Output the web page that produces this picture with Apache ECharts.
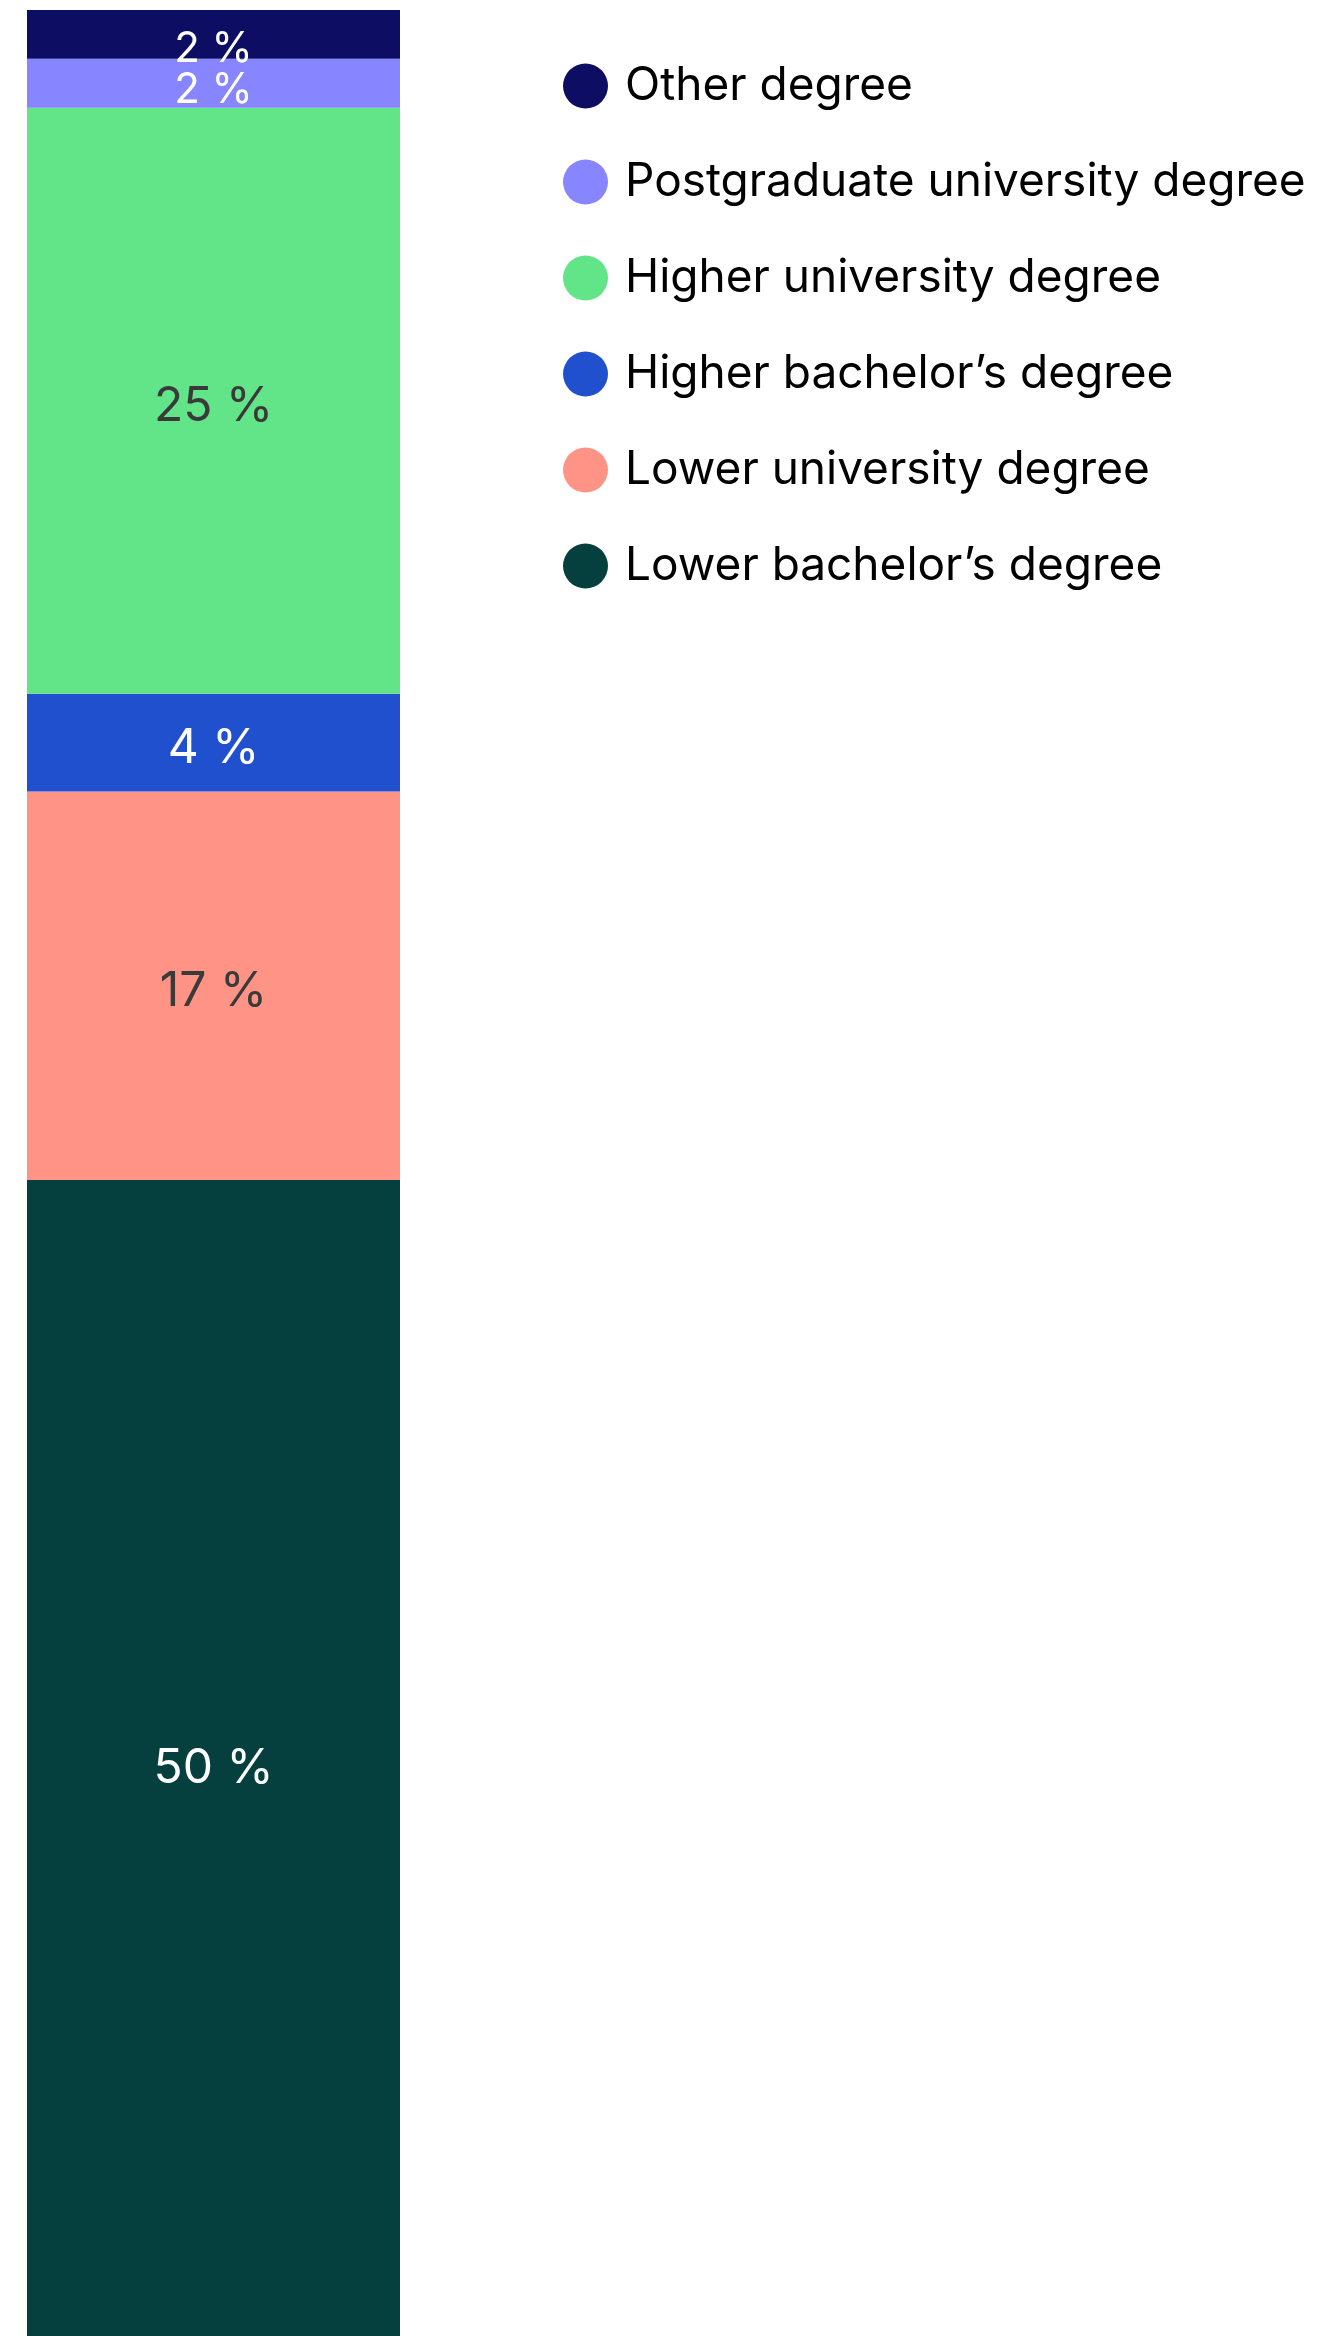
<!DOCTYPE html>
<html>
<head>
<meta charset="utf-8">
<script src="https://cdn.jsdelivr.net/npm/echarts@6/dist/echarts.min.js"></script>
<style>
  html, body { margin: 0; padding: 0; background: #ffffff; }
  #chart { width: 1317px; height: 2336px; }
</style>
</head>
<body>
<div id="chart"></div>
<script>
// Data (bottom of stack first)
const categories = ['Degree'];
const seriesNames = [
  'Lower bachelor\u2019s degree',
  'Lower university degree',
  'Higher bachelor\u2019s degree',
  'Higher university degree',
  'Postgraduate university degree',
  'Other degree'
];
const seriesValues = [49.7, 16.7, 4.2, 25.2, 2.1, 2.1];
const seriesColors = ['#05403f', '#ff9486', '#2150cf', '#62e488', '#8785ff', '#0d0d63'];
const labelColors = ['#ffffff', '#3a3a3a', '#ffffff', '#3a3a3a', '#ffffff', '#ffffff'];
const labelOffsets = [[0, 11], [0, 6], [0, 6], [0, 6], [0, 7], [0, 15]];
const legendOrder = seriesNames.slice().reverse();

const FONT = 'Inter, Roboto, "Noto Sans", sans-serif';

const chart = echarts.init(document.getElementById('chart'), null, { renderer: 'canvas' });

const series = seriesNames.map((name, i) => {
  const small = seriesValues[i] < 3;
  return {
    name: name,
    type: 'bar',
    stack: 'total',
    data: [seriesValues[i]],
    barWidth: '100%',
    itemStyle: { color: seriesColors[i] },
    label: {
      show: true,
      position: 'inside',
      formatter: p => Math.round(p.value) + ' %',
      color: labelColors[i],
      fontFamily: FONT,
      fontSize: small ? 42 : 48,
      offset: labelOffsets[i]
    },
    emphasis: { disabled: true }
  };
});

chart.setOption({
  backgroundColor: '#ffffff',
  animation: false,
  grid: { left: 27, top: 10, width: 373, bottom: 0, containLabel: false },
  xAxis: {
    type: 'category',
    data: categories,
    show: false
  },
  yAxis: {
    type: 'value',
    min: 0,
    max: 100,
    show: false
  },
  legend: {
    orient: 'vertical',
    left: 558,
    top: 58,
    data: legendOrder,
    icon: 'circle',
    itemWidth: 45,
    itemHeight: 45,
    itemGap: 50,
    textStyle: {
      fontFamily: FONT,
      fontSize: 46,
      color: '#000000',
      padding: [0, 0, 0, 12]
    },
    selectedMode: false
  },
  series: series
});
</script>
</body>
</html>
